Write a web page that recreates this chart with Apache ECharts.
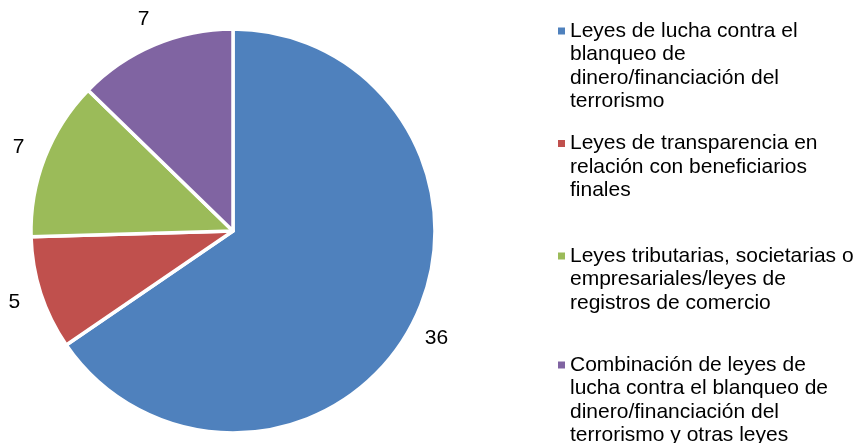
<!DOCTYPE html>
<html>
<head>
<meta charset="utf-8">
<script src="https://cdn.jsdelivr.net/npm/echarts@6/dist/echarts.min.js"></script>
<style>
  html, body { margin: 0; padding: 0; background: #fff; }
  #chart { width: 860px; height: 443px; }
</style>
</head>
<body>
<div id="chart"></div>
<script>
// Categories (line breaks as shown in the legend)
const categories = [
  'Leyes de lucha contra el\nblanqueo de\ndinero/financiación del\nterrorismo',
  'Leyes de transparencia en\nrelación con beneficiarios\nfinales',
  'Leyes tributarias, societarias o\nempresariales/leyes de\nregistros de comercio',
  'Combinación de leyes de\nlucha contra el blanqueo de\ndinero/financiación del\nterrorismo y otras leyes'
];
const values = [36, 5, 7, 7];
const colors = ['#4F81BD', '#C0504D', '#9BBB59', '#8064A2'];

const FONT = '"Liberation Sans", Arial, Helvetica, sans-serif';
const LINE_H = 23.5;
const MARK = 7;
// vertical centre of each legend marker
const legendMarkerY = [31, 143.5, 256, 365];

const pieData = categories.map((name, i) => ({
  name, value: values[i], itemStyle: { color: colors[i] }
}));

// Square marker aligned with the first text line of a multi-line legend item:
// the path spans the whole text block height, the visible square sits at the top.
function markerPath(lines) {
  const h = lines * LINE_H;
  const y = LINE_H / 2 - MARK / 2;
  return 'path://M0,0l0,0M0,' + y + 'h' + MARK + 'v' + MARK + 'h-' + MARK + 'zM0,' + h + 'l0,0';
}

// One legend block per category so each block can sit at its own height.
const legends = categories.map((name, i) => {
  const n = name.split('\n').length;
  return {
    data: [{ name, itemStyle: { color: colors[i] } }],
    orient: 'vertical',
    left: 558,
    top: legendMarkerY[i] - LINE_H / 2,
    padding: 0,
    icon: markerPath(n),
    itemWidth: MARK,
    itemHeight: n * LINE_H,
    symbolKeepAspect: false,
    selectedMode: false,
    itemStyle: { borderWidth: 0 },
    textStyle: {
      fontFamily: FONT,
      fontSize: 21,
      lineHeight: LINE_H,
      color: '#000'
    }
  };
});

const chart = echarts.init(document.getElementById('chart'), null, { renderer: 'canvas' });
chart.setOption({
  animation: false,
  backgroundColor: '#fff',
  legend: legends,
  series: [
    {
      type: 'pie',
      center: [233, 231],
      radius: [0, 202],
      startAngle: 90,
      clockwise: true,
      silent: true,
      label: { show: false },
      labelLine: { show: false },
      itemStyle: { borderColor: '#fff', borderWidth: 3.5 },
      data: pieData
    },
    {
      // value labels placed on a ring just outside the pie
      type: 'pie',
      center: [233, 231],
      radius: [218, 236],
      startAngle: 90,
      clockwise: true,
      silent: true,
      legendHoverLink: false,
      itemStyle: { color: 'transparent', borderWidth: 0 },
      label: {
        show: true,
        position: 'inside',
        formatter: '{c}',
        fontFamily: FONT,
        fontSize: 21,
        color: '#000'
      },
      labelLine: { show: false },
      emphasis: { disabled: true },
      data: categories.map((name, i) => ({ name, value: values[i] }))
    }
  ]
});
</script>
</body>
</html>
